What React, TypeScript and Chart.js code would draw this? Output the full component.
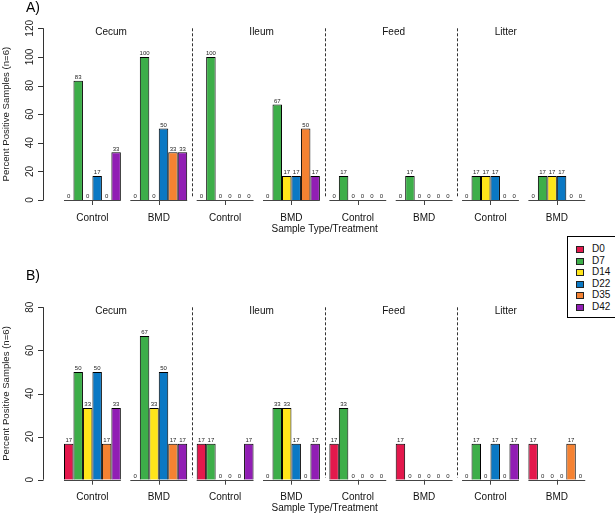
import React, { useEffect, useRef } from 'react';
import { Chart, registerables } from 'chart.js';

Chart.register(...registerables);

const FONT = "'Liberation Sans', Arial, sans-serif";

const SERIES = ['D0', 'D7', 'D14', 'D22', 'D35', 'D42'];
const COLORS = ['#E3184C', '#3DAE49', '#FFE51A', '#0A78C4', '#F58232', '#911EB4'];
const GROUP_LABELS = ['Control', 'BMD', 'Control', 'BMD', 'Control', 'BMD', 'Control', 'BMD'];
const SECTIONS = ['Cecum', 'Ileum', 'Feed', 'Litter'];
const SECTION_POS = [0.28, 2.55, 4.54, 6.23];
const SEPARATOR_POS = [1.5, 3.5, 5.5];
const A_TICKS = [0, 20, 40, 60, 80, 100, 120];
const B_TICKS = [0, 20, 40, 60, 80];

// Panel A
const A_D0 = [0, 0, 0, 0, 0, 0, 0, 0];
const A_D7 = [83.3, 100, 100, 66.7, 16.7, 16.7, 16.7, 16.7];
const A_D14 = [0, 0, 0, 16.7, 0, 0, 16.7, 16.7];
const A_D22 = [16.7, 50, 0, 16.7, 0, 0, 16.7, 16.7];
const A_D35 = [0, 33.3, 0, 50, 0, 0, 0, 0];
const A_D42 = [33.3, 33.3, 0, 16.7, 0, 0, 0, 0];

// Panel B
const B_D0 = [16.7, 0, 16.7, 0, 16.7, 16.7, 0, 16.7];
const B_D7 = [50, 66.7, 16.7, 33.3, 33.3, 0, 16.7, 0];
const B_D14 = [33.3, 33.3, 0, 33.3, 0, 0, 0, 0];
const B_D22 = [50, 50, 0, 16.7, 0, 0, 16.7, 0];
const B_D35 = [16.7, 16.7, 0, 0, 0, 0, 0, 16.7];
const B_D42 = [33.3, 16.7, 16.7, 16.7, 0, 0, 16.7, 0];

const A_SERIES = [A_D0, A_D7, A_D14, A_D22, A_D35, A_D42];
const B_SERIES = [B_D0, B_D7, B_D14, B_D22, B_D35, B_D42];

const decorPlugin = {
  id: 'panelDecor',
  afterDraw(chart: any) {
    const o = chart.options.plugins.panelDecor;
    const { ctx, chartArea } = chart;
    const xs = chart.scales.x;
    const ys = chart.scales.y;
    const y0 = ys.getPixelForValue(0);
    const left = chartArea.left;
    ctx.save();

    // y axis
    const ticks: number[] = o.ticks;
    ctx.strokeStyle = '#333';
    ctx.lineWidth = 1;
    ctx.beginPath();
    ctx.moveTo(left + 0.5, ys.getPixelForValue(ticks[ticks.length - 1]));
    ctx.lineTo(left + 0.5, y0);
    ticks.forEach((t) => {
      const py = Math.round(ys.getPixelForValue(t)) + 0.5;
      ctx.moveTo(left - 5, py);
      ctx.lineTo(left + 0.5, py);
    });
    ctx.stroke();
    ctx.fillStyle = '#222';
    ctx.font = `10px ${FONT}`;
    ctx.textAlign = 'center';
    ctx.textBaseline = 'middle';
    ticks.forEach((t) => {
      const py = ys.getPixelForValue(t);
      ctx.save();
      ctx.translate(left - 13, py);
      ctx.rotate(-Math.PI / 2);
      ctx.fillText(String(t), 0, 0);
      ctx.restore();
    });

    // y title
    ctx.save();
    ctx.font = `9.6px ${FONT}`;
    ctx.translate(6, (chartArea.top + chartArea.bottom) / 2);
    ctx.rotate(-Math.PI / 2);
    ctx.fillText('Percent Positive Samples (n=6)', 0, 0);
    ctx.restore();

    // panel label
    ctx.font = `14px ${FONT}`;
    ctx.textAlign = 'left';
    ctx.fillStyle = '#000';
    ctx.fillText(o.label, 26, o.labelY);

    // section labels
    ctx.font = `10px ${FONT}`;
    ctx.textAlign = 'center';
    ctx.fillStyle = '#111';
    SECTIONS.forEach((s, i) => {
      ctx.fillText(s, xs.getPixelForValue(SECTION_POS[i]), chartArea.top + 4.3);
    });

    // separators
    ctx.save();
    ctx.setLineDash([3, 2]);
    ctx.strokeStyle = '#333';
    SEPARATOR_POS.forEach((p) => {
      const px = Math.round(xs.getPixelForValue(p)) + 0.5;
      ctx.beginPath();
      ctx.moveTo(px, chartArea.top);
      ctx.lineTo(px, chartArea.bottom - 2);
      ctx.stroke();
    });
    ctx.restore();

    // baselines, ticks and group labels
    const first = chart.getDatasetMeta(0).data;
    const last = chart.getDatasetMeta(SERIES.length - 1).data;
    ctx.strokeStyle = '#444';
    ctx.lineWidth = 1;
    let minX = Infinity;
    let maxX = -Infinity;
    GROUP_LABELS.forEach((g, i) => {
      const l = first[i].x - first[i].width / 2;
      const r = last[i].x + last[i].width / 2;
      minX = Math.min(minX, l);
      maxX = Math.max(maxX, r);
      const c = xs.getPixelForValue(i);
      ctx.beginPath();
      ctx.moveTo(l, Math.round(y0) + 0.5);
      ctx.lineTo(r, Math.round(y0) + 0.5);
      ctx.moveTo(Math.round(c) + 0.5, y0);
      ctx.lineTo(Math.round(c) + 0.5, y0 + 5);
      ctx.stroke();
      ctx.fillStyle = '#111';
      ctx.font = `10px ${FONT}`;
      ctx.textAlign = 'center';
      ctx.textBaseline = 'middle';
      ctx.fillText(g, c, y0 + 18);
    });
    ctx.fillText('Sample Type/Treatment', (minX + maxX) / 2, y0 + 29);

    // value labels
    ctx.font = `6px ${FONT}`;
    ctx.textBaseline = 'bottom';
    ctx.fillStyle = '#222';
    chart.data.datasets.forEach((ds: any, di: number) => {
      const meta = chart.getDatasetMeta(di);
      meta.data.forEach((el: any, i: number) => {
        ctx.fillText(String(Math.round(ds.data[i].y)), el.x, el.y - 0.5);
      });
    });
    ctx.restore();
  },
};

function makeConfig(series: number[][], ticks: number[], label: string, labelY: number, padTop: number, padBottom: number) {
  return {
    type: 'bar',
    data: {
      datasets: SERIES.map((name, s) => ({
        label: name,
        data: series[s].map((v, i) => ({ x: i, y: v })),
        backgroundColor: COLORS[s],
        borderColor: '#000',
        borderWidth: 1,
        categoryPercentage: 6 / 7,
        barPercentage: 1,
      })),
    },
    options: {
      responsive: false,
      animation: false,
      layout: { padding: { left: 43, right: 25, top: padTop, bottom: padBottom } },
      scales: {
        x: {
          type: 'linear',
          display: false,
          offset: false,
          min: -0.745,
          max: 7.5,
          afterBuildTicks: (scale: any) => {
            scale.ticks = GROUP_LABELS.map((_, i) => ({ value: i }));
          },
        },
        y: { display: false, min: 0, max: ticks[ticks.length - 1] },
      },
      plugins: {
        legend: { display: false },
        tooltip: { enabled: false },
        panelDecor: { ticks, label, labelY },
      },
    },
    plugins: [decorPlugin],
  } as any;
}

function Panel(props: { top: number; height: number; config: any }) {
  const ref = useRef<HTMLCanvasElement>(null);
  useEffect(() => {
    const chart = new Chart(ref.current as HTMLCanvasElement, props.config);
    return () => chart.destroy();
  }, []);
  return (
    <canvas
      ref={ref}
      width={615}
      height={props.height}
      style={{ position: 'absolute', left: 0, top: props.top, width: 615, height: props.height }}
    />
  );
}

function Legend() {
  return (
    <div
      style={{
        position: 'absolute',
        left: 567,
        top: 236,
        width: 60,
        height: 80,
        border: '1px solid #000',
        background: '#fff',
        fontFamily: FONT,
        fontSize: 10,
        color: '#111',
      }}
    >
      {SERIES.map((s, i) => (
        <div key={s} style={{ position: 'absolute', left: 0, top: 6 + i * 11.6, height: 12, width: 60 }}>
          <div
            style={{
              position: 'absolute',
              left: 8,
              top: 3,
              width: 6,
              height: 5,
              background: COLORS[i],
              border: '1px solid #222',
            }}
          />
          <div style={{ position: 'absolute', left: 24, top: 0, lineHeight: '12px' }}>{s}</div>
        </div>
      ))}
    </div>
  );
}

export default function App() {
  const configA = makeConfig(A_SERIES, A_TICKS, 'A)', 8, 28.3, 50);
  const configB = makeConfig(B_SERIES, B_TICKS, 'B)', 26.5, 57.3, 34.3);
  return (
    <div style={{ position: 'absolute', left: 0, top: 0, width: 615, height: 514, overflow: 'hidden', background: '#fff' }}>
      <Panel top={0} height={250} config={configA} />
      <Panel top={250} height={264} config={configB} />
      <Legend />
    </div>
  );
}
